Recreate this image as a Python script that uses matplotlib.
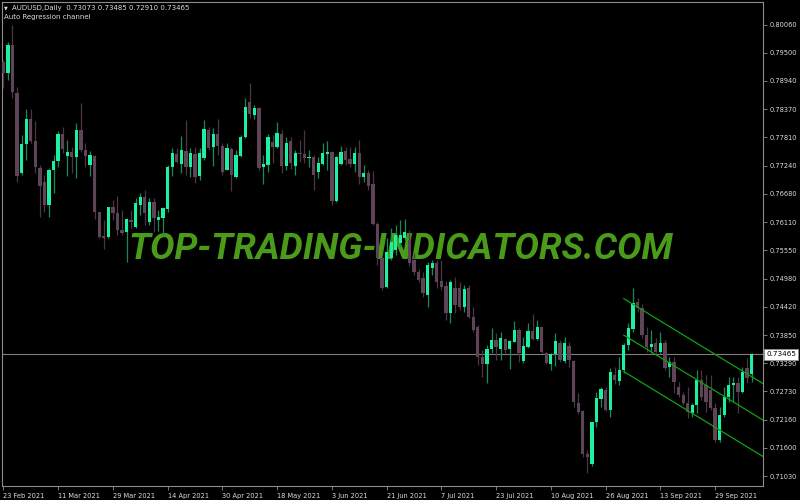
import matplotlib
matplotlib.use('Agg')
import matplotlib.pyplot as plt
import matplotlib.transforms as mtrans
import numpy as np
import pandas as pd

# AUDUSD daily candles (23 Feb 2021 .. 11 Oct 2021)
opens = [.7932, .7910, .7966, .7870, .7710, .7768, .7818, .7774, .7720, .7692,
         .7646, .7716, .7734, .7788, .7744, .7752, .7742, .7796, .7756, .7726,
         .7744, .7632, .7584, .7582, .7642, .7630, .7596, .7592, .7616, .7602,
         .7646, .7662, .7612, .7652, .7616, .7620, .7638, .7722, .7748, .7728,
         .7754, .7722, .7748, .7704, .7740, .7796, .7762, .7788, .7764, .7716,
         .7758, .7702, .7744, .7782, .7852, .7826, .7840, .7722, .7726, .7772,
         .7762, .7788, .7724, .7774, .7724, .7750, .7748, .7740, .7742, .7712,
         .7728, .7748, .7752, .7654, .7728, .7754, .7738, .7728, .7750, .7702,
         .7710, .7688, .7608, .7540, .7482, .7540, .7556, .7570, .7580, .7576,
         .7536, .7512, .7500, .7466, .7520, .7530, .7494, .7484, .7430, .7480,
         .7480, .7442, .7480, .7422, .7402, .7342, .7328, .7358, .7376, .7358,
         .7378, .7358, .7372, .7396, .7334, .7362, .7394, .7378, .7402, .7350,
         .7328, .7348, .7370, .7334, .7364, .7334, .7250, .7234, .7148, .7128,
         .7212, .7258, .7276, .7236, .7306, .7294, .7316, .7366, .7398, .7452,
         .7440, .7386, .7362, .7370, .7352, .7370, .7322, .7332, .7282, .7266,
         .7250, .7230, .7246, .7296, .7286, .7276, .7240, .7176, .7226, .7262,
         .7286, .7290, .7272, .7320, .73073]
highs = [.7936, .7972, .8006, .7882, .7786, .7838, .7838, .7814, .7726, .7706,
         .7720, .7746, .7794, .7802, .7776, .7762, .7810, .7850, .7770, .7754,
         .7746, .7632, .7616, .7642, .7656, .7664, .7636, .7620, .7636, .7660,
         .7670, .7676, .7660, .7660, .7636, .7642, .7726, .7760, .7760, .7784,
         .7816, .7760, .7762, .7760, .7816, .7802, .7800, .7818, .7770, .7770,
         .7762, .7756, .7786, .7860, .7890, .7846, .7842, .7746, .7788, .7786,
         .7812, .7796, .7782, .7782, .7756, .7776, .7796, .7756, .7746, .7742,
         .7770, .7774, .7754, .7744, .7764, .7762, .7762, .7762, .7776, .7726,
         .7716, .7714, .7612, .7546, .7580, .7600, .7606, .7616, .7618, .7596,
         .7550, .7518, .7512, .7532, .7536, .7536, .7536, .7494, .7496, .7502,
         .7492, .7486, .7486, .7442, .7406, .7356, .7366, .7400, .7390, .7392,
         .7380, .7376, .7414, .7400, .7382, .7410, .7428, .7416, .7402, .7352,
         .7350, .7390, .7376, .7382, .7372, .7336, .7270, .7236, .7156, .7212,
         .7272, .7282, .7282, .7320, .7322, .7342, .7370, .7410, .7480, .7460,
         .7448, .7402, .7396, .7380, .7392, .7376, .7342, .7342, .7292, .7272,
         .7282, .7250, .7316, .7316, .7306, .7306, .7250, .7242, .7282, .7302,
         .7302, .7302, .7322, .7340, .73485]
lows = [.7880, .7896, .7860, .7692, .7706, .7736, .7770, .7710, .7622, .7632,
        .7622, .7670, .7722, .7750, .7704, .7710, .7700, .7752, .7722, .7704,
        .7618, .7580, .7558, .7580, .7616, .7586, .7586, .7532, .7600, .7600,
        .7626, .7606, .7606, .7592, .7594, .7586, .7632, .7704, .7730, .7710,
        .7706, .7702, .7690, .7696, .7736, .7756, .7724, .7746, .7706, .7716,
        .7674, .7700, .7742, .7780, .7820, .7818, .7716, .7688, .7712, .7730,
        .7760, .7710, .7716, .7718, .7706, .7732, .7730, .7722, .7676, .7700,
        .7726, .7716, .7646, .7652, .7726, .7726, .7722, .7712, .7688, .7692,
        .7676, .7606, .7526, .7476, .7480, .7536, .7546, .7562, .7576, .7524,
        .7506, .7492, .7462, .7442, .7506, .7480, .7476, .7416, .7410, .7430,
        .7436, .7432, .7420, .7392, .7326, .7302, .7290, .7350, .7336, .7336,
        .7350, .7318, .7372, .7332, .7330, .7360, .7376, .7376, .7350, .7328,
        .7316, .7324, .7332, .7330, .7322, .7242, .7228, .7142, .7110, .7124,
        .7202, .7242, .7234, .7222, .7288, .7286, .7310, .7356, .7392, .7432,
        .7380, .7352, .7350, .7350, .7350, .7316, .7302, .7270, .7262, .7246,
        .7220, .7222, .7230, .7256, .7232, .7236, .7172, .7172, .7222, .7252,
        .7252, .7230, .7270, .7290, .72910]
closes = [.7910, .7966, .7872, .7704, .7768, .7818, .7774, .7722, .7684, .7646,
          .7716, .7734, .7788, .7758, .7752, .7742, .7796, .7756, .7744, .7746,
          .7632, .7582, .7580, .7642, .7630, .7596, .7590, .7618, .7612, .7650,
          .7662, .7630, .7652, .7620, .7622, .7640, .7722, .7750, .7732, .7756,
          .7722, .7750, .7702, .7750, .7798, .7760, .7788, .7764, .7712, .7760,
          .7706, .7746, .7782, .7842, .7828, .7840, .7720, .7728, .7782, .7762,
          .7790, .7724, .7770, .7730, .7750, .7748, .7740, .7742, .7706, .7730,
          .7750, .7752, .7654, .7742, .7752, .7736, .7728, .7750, .7702, .7710,
          .7684, .7608, .7540, .7480, .7552, .7572, .7586, .7586, .7592, .7530,
          .7512, .7496, .7470, .7526, .7530, .7492, .7482, .7430, .7492, .7446,
          .7442, .7478, .7422, .7396, .7342, .7328, .7358, .7376, .7362, .7380,
          .7356, .7374, .7396, .7350, .7364, .7394, .7378, .7402, .7352, .7330,
          .7348, .7374, .7336, .7370, .7336, .7252, .7232, .7148, .7142, .7212,
          .7260, .7278, .7236, .7312, .7296, .7316, .7366, .7400, .7450, .7440,
          .7386, .7362, .7368, .7352, .7370, .7320, .7332, .7292, .7266, .7250,
          .7232, .7246, .7296, .7262, .7252, .7240, .7176, .7226, .7262, .7286,
          .7290, .7272, .7312, .7300, .73465]

dates = pd.bdate_range('2021-02-23', periods=len(opens))
price_levels = [0.80060, 0.79500, 0.78940, 0.78370, 0.77810, 0.77240, 0.76680,
                0.76110, 0.75550, 0.74980, 0.74420, 0.73850, 0.73290, 0.72730,
                0.72160, 0.71600, 0.71030]
last_price = 0.73465

# regression channel: middle line at start bar and at the right edge
chan_bars = [136, 166.5]
chan_mid = [0.7385, 0.7215]
chan_half = 0.0073

bull_body = '#1cf0a2'
bull_wick = '#168a58'
bear_body = '#5f4356'
bear_wick = '#4d3545'
txt_col = '#dcdcdc'
frame_col = '#8c8c8c'

fig = plt.figure(figsize=(8, 5), dpi=100, facecolor='black')
ax = fig.add_axes([2 / 800, 14 / 500, 761 / 800, 484 / 500])
ax.set_facecolor('black')

x = np.arange(len(opens))
o = np.array(opens)
h = np.array(highs)
l = np.array(lows)
c = np.array(closes)
up = c >= o

ax.vlines(x[up], l[up], h[up], color=bull_wick, lw=0.9, zorder=3)
ax.vlines(x[~up], l[~up], h[~up], color=bear_wick, lw=0.9, zorder=3)
ax.bar(x[up], np.maximum(c - o, 0.0001)[up], bottom=o[up], width=0.72,
       color=bull_body, lw=0, zorder=4)
ax.bar(x[~up], np.maximum(o - c, 0.0001)[~up], bottom=c[~up], width=0.72,
       color=bear_body, lw=0, zorder=4)

# current price line
ax.axhline(last_price, color='#8a7880', lw=0.8, zorder=2)

# auto regression channel
mid = np.array(chan_mid)
for off in (chan_half, 0, -chan_half):
    ax.plot(chan_bars, mid + off, color='#12a012', lw=0.9, zorder=5)

ax.set_xlim(-0.3, 166.5)
ax.set_ylim(0.70830, 0.80520)

for s in ax.spines.values():
    s.set_color(frame_col)
    s.set_linewidth(0.8)

ax.yaxis.tick_right()
ax.set_yticks(price_levels)
ax.set_yticklabels(['%.5f' % p for p in price_levels])
ax.tick_params(axis='y', direction='out', length=3, width=0.6, color=frame_col,
               labelsize=4.8, labelcolor=txt_col, pad=2)

ax.set_xticks(x[::12])
ax.set_xticklabels([d.strftime('%-d %b %Y') for d in dates[::12]])
ax.tick_params(axis='x', direction='out', length=3, width=0.6, color=frame_col,
               labelsize=4.8, labelcolor=txt_col, pad=2)
for t in ax.get_xticklabels():
    t.set_ha('left')

# last price box on the scale
trans = mtrans.blended_transform_factory(ax.transAxes, ax.transData)
ax.text(1.0 + 3 / 761, last_price, '%.5f' % last_price, transform=trans,
        fontsize=5.2, color='black', ha='left', va='center', clip_on=False,
        bbox=dict(boxstyle='square,pad=0.3', fc='white', ec='#999999', lw=0.5))

# header texts
fig.text(4 / 800, 1 - 8 / 500, '\u25bc', fontsize=3.5, color=txt_col, va='center')
fig.text(12 / 800, 1 - 8 / 500, 'AUDUSD,Daily  0.73073 0.73485 0.72910 0.73465',
         fontsize=5, color=txt_col, va='center')
fig.text(4 / 800, 1 - 17 / 500, 'Auto Regression channel',
         fontsize=5, color=txt_col, va='center')

# watermark
ax.text(401 / 800, 1 - 249 / 500, 'TOP-TRADING-INDICATORS.COM',
        transform=fig.transFigure, fontsize=26.4, fontweight='bold',
        fontstyle='italic', family=['Roboto', 'DejaVu Sans'],
        color='#4a9b1a', ha='center', va='center', zorder=2)

fig.savefig('out.png', dpi=100, facecolor='black')
